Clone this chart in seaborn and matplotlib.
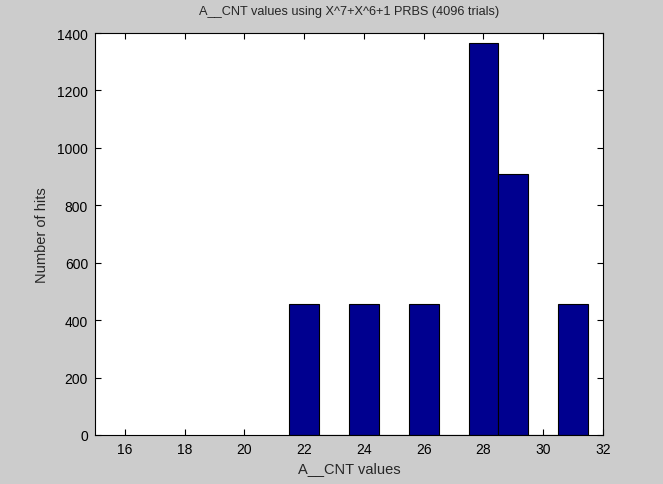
import matplotlib
matplotlib.use("Agg")
import matplotlib.pyplot as plt
import seaborn as sns
import pandas as pd

# A_CNT values and how often each was hit
cnt_values = [22, 24, 26, 28, 29, 31]
hits = [455, 455, 455, 1365, 910, 455]

x_ticks = [16, 18, 20, 22, 24, 26, 28, 30, 32]
y_ticks = [0, 200, 400, 600, 800, 1000, 1200, 1400]

sns.set_style("ticks")
plt.rcParams['font.family'] = ['Liberation Sans', 'DejaVu Sans']

df = pd.DataFrame({'A_CNT': cnt_values, 'hits': hits})

fig = plt.figure(figsize=(6.63, 4.85), dpi=100, facecolor='#cccccc')
ax = fig.add_axes([95 / 663, 1 - 436 / 485, 508 / 663, 402 / 485])
ax.set_facecolor('white')

sns.histplot(data=df, x='A_CNT', weights='hits', discrete=True,
             color='#00008f', alpha=1, edgecolor='black', linewidth=0.8, ax=ax)

ax.set_xlim(15, 32)
ax.set_ylim(0, 1400)
ax.set_xticks(x_ticks)
ax.set_yticks(y_ticks)
ax.tick_params(direction='in', top=True, right=True, length=4, width=0.8,
               labelsize=10, colors='black', pad=5)
for s in ax.spines.values():
    s.set_visible(True)
    s.set_color('black')
    s.set_linewidth(0.8)

ax.set_title('A__CNT values using X^7+X^6+1 PRBS (4096 trials)', fontsize=9.2, pad=14)
ax.set_xlabel('A__CNT values', fontsize=10.5, labelpad=4)
ax.set_ylabel('Number of hits', fontsize=10.5, labelpad=6)

fig.savefig('out.png', dpi=100, facecolor=fig.get_facecolor())
